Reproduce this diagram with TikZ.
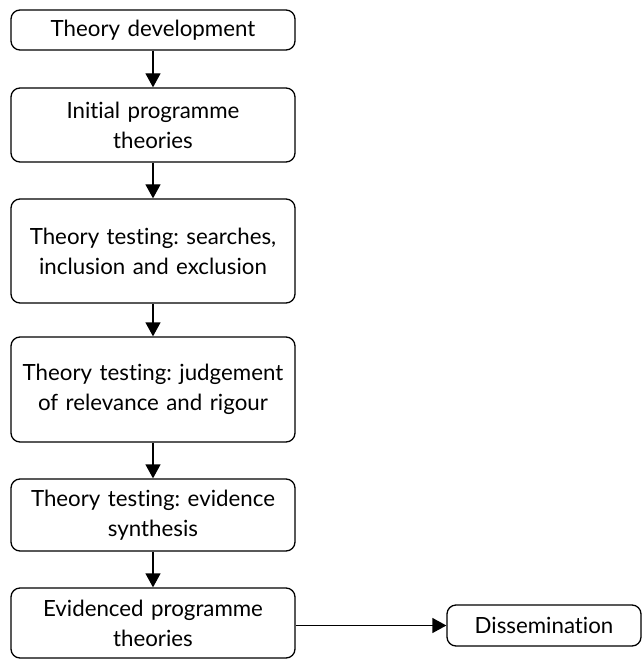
\documentclass[tikz,border=0pt]{standalone}
\usepackage{fontspec}
\setmainfont[Ligatures=NoCommon]{Lato}
\usetikzlibrary{arrows.meta}
\frenchspacing
\begin{document}
\begin{tikzpicture}[x=1pt,y=-1pt,
  flowbox/.style={draw=black,line width=1.3pt,rounded corners=9pt,fill=white,
    minimum width=284pt,text width=280pt,align=center,inner sep=0pt,
    font=\fontsize{22.3}{30}\selectfont},
  flowarrow/.style={line width=1.3pt,-{Triangle[length=14pt,width=15pt]}}]
  \useasboundingbox (0,0) rectangle (643,660);
  \node[flowbox,minimum height=40pt]  (dev)    at (153,30)    {Theory development};
  \node[flowbox,minimum height=74pt]  (init)   at (153,125)   {Initial programme\\theories};
  \node[flowbox,minimum height=104pt] (search) at (153,251)   {Theory testing: searches,\\inclusion and exclusion};
  \node[flowbox,minimum height=105pt] (judge)  at (153,389.5) {Theory testing: judgement\\of relevance and rigour};
  \node[flowbox,minimum height=72pt]  (synth)  at (153,515)   {Theory testing: evidence\\synthesis};
  \node[flowbox,minimum height=70pt]  (evid)   at (153,623)   {Evidenced programme\\theories};
  \node[flowbox,minimum width=194pt,text width=190pt,minimum height=41pt] (diss) at (544,625.5) {Dissemination};
  \draw[flowarrow] (dev) -- (init);
  \draw[flowarrow] (init) -- (search);
  \draw[flowarrow] (search) -- (judge);
  \draw[flowarrow] (judge) -- (synth);
  \draw[flowarrow] (synth) -- (evid);
  \draw[flowarrow] (evid.east |- diss) -- (diss);
\end{tikzpicture}
\end{document}
